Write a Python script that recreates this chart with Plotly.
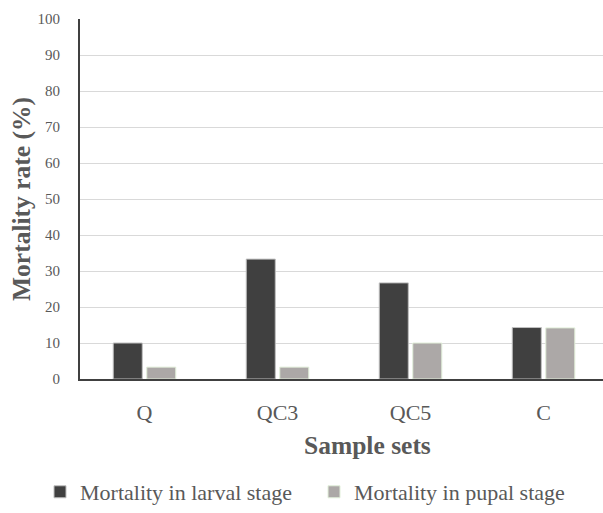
import plotly.graph_objects as go

categories = ["Q", "QC3", "QC5", "C"]
larval = [10.0, 33.3, 26.7, 14.3]
pupal = [3.3, 3.3, 10.0, 14.2]
series_names = ["Mortality in larval stage", "Mortality in pupal stage"]
y_ticks = [0, 10, 20, 30, 40, 50, 60, 70, 80, 90, 100]

FONT = "Liberation Serif"
TXT = "#595959"

fig = go.Figure()
fig.add_trace(go.Bar(x=categories, y=larval, name=series_names[0], legend="legend",
                     marker=dict(color="#404040", line=dict(color="#bfbfbf", width=1))))
fig.add_trace(go.Bar(x=categories, y=pupal, name=series_names[1], legend="legend2",
                     marker=dict(color="#aca8a7", line=dict(color="#e2efda", width=1))))

leg_common = dict(orientation="h", xref="container", xanchor="left",
                  yref="container", y=0.041, yanchor="middle",
                  font=dict(size=22, color=TXT), itemwidth=30, bgcolor="rgba(0,0,0,0)")

fig.update_layout(
    width=603, height=513,
    margin=dict(l=80, r=0, t=19, b=134, autoexpand=False),
    plot_bgcolor="white", paper_bgcolor="white",
    barmode="group", bargap=0.496, bargroupgap=0.134,
    font=dict(family=FONT, color=TXT),
    showlegend=True,
    legend=dict(x=40 / 603, **leg_common),
    legend2=dict(x=314 / 603, **leg_common),
    annotations=[dict(text="<b>Sample sets</b>", xref="paper", yref="paper",
                      x=(367.5 - 80) / 523, y=(379 - 445) / 360,
                      xanchor="center", yanchor="middle", showarrow=False,
                      font=dict(size=25.5, color=TXT, family=FONT))],
)
fig.update_xaxes(
    range=[-0.485, 3.447], showgrid=False, automargin=False,
    showline=True, linecolor="#404040", linewidth=2,
    ticks="outside", ticklen=13, tickcolor="rgba(0,0,0,0)",
    tickfont=dict(size=22, color=TXT, family=FONT),
)
fig.update_yaxes(
    range=[0, 100], tickvals=y_ticks, automargin=False,
    showgrid=True, gridcolor="#d9d9d9", gridwidth=1,
    showline=True, linecolor="#404040", linewidth=2,
    zeroline=False,
    ticks="outside", ticklen=15, tickcolor="rgba(0,0,0,0)",
    tickfont=dict(size=15, color=TXT, family=FONT),
    title=dict(text="<b>Mortality rate (%)</b>", font=dict(size=25.5, color=TXT, family=FONT), standoff=0),
)

fig.write_html("out.html")
